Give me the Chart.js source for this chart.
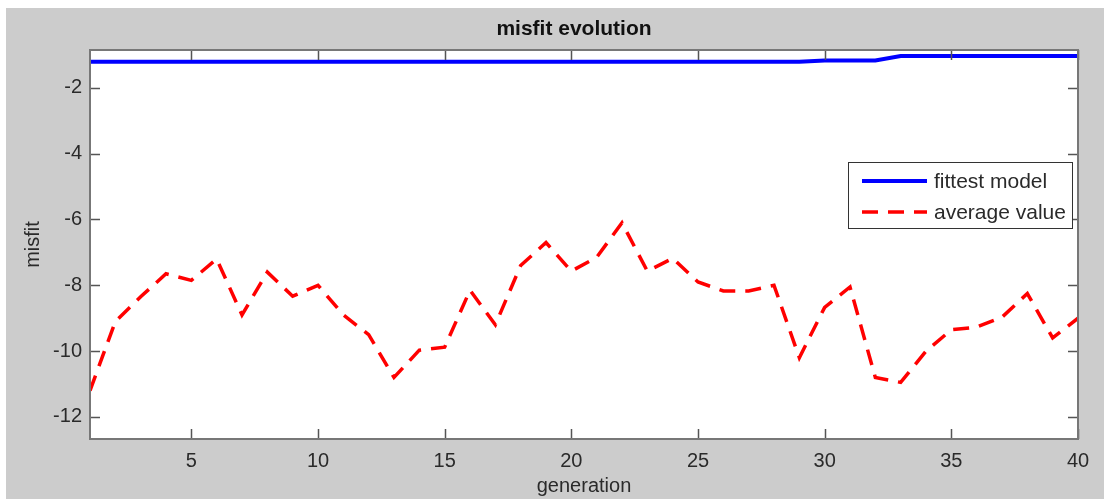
<!DOCTYPE html>
<html>
<head>
<meta charset="utf-8">
<script src="https://cdn.jsdelivr.net/npm/chart.js@4.4.1/dist/chart.umd.min.js"></script>
<style>
  html, body { margin: 0; padding: 0; background: #ffffff; }
  #wrap { width: 1104px; height: 499px; position: relative; }
</style>
</head>
<body>
<div id="wrap"><canvas id="myChart" width="1104" height="499"></canvas></div>
<script>
// generation numbers (x)
var generations = [1, 2, 3, 4, 5, 6, 7, 8, 9, 10,
  11, 12, 13, 14, 15, 16, 17, 18, 19, 20,
  21, 22, 23, 24, 25, 26, 27, 28, 29, 30,
  31, 32, 33, 34, 35, 36, 37, 38, 39, 40];

// misfit of the fittest model
var fittestModel = [-1.21, -1.21, -1.21, -1.21, -1.21, -1.21, -1.21, -1.21, -1.21, -1.21,
  -1.21, -1.21, -1.21, -1.21, -1.21, -1.21, -1.21, -1.21, -1.21, -1.21,
  -1.21, -1.21, -1.21, -1.21, -1.21, -1.21, -1.21, -1.21, -1.21, -1.17,
  -1.17, -1.17, -1.03, -1.03, -1.03, -1.03, -1.03, -1.03, -1.03, -1.03];

// average misfit of the population
var averageValue = [-11.2, -9.1, -8.35, -7.65, -7.85, -7.2, -8.9, -7.6, -8.33, -8.0,
  -8.9, -9.5, -10.8, -9.97, -9.88, -8.15, -9.2, -7.4, -6.7, -7.57,
  -7.15, -6.1, -7.57, -7.18, -7.9, -8.17, -8.17, -8.0, -10.2, -8.67,
  -8.05, -10.8, -10.95, -10.0, -9.35, -9.27, -8.97, -8.25, -9.6, -9.0];

// tick labels
var xTicks = [5, 10, 15, 20, 25, 30, 35, 40];
var yTicks = [-12, -10, -8, -6, -4, -2];

var chartTitle = 'misfit evolution';

var FONT = "'Liberation Sans', Arial, sans-serif";

// pair up x and y
function toPoints(xs, ys) {
  var pts = [];
  for (let i = 0; i < xs.length; i++) pts.push({ x: xs[i], y: ys[i] });
  return pts;
}

// gray figure background + white axes area
var backgroundPlugin = {
  id: 'figureBg',
  beforeDraw: function (chart) {
    var ctx = chart.ctx, a = chart.chartArea;
    ctx.save();
    ctx.fillStyle = '#ffffff';
    ctx.fillRect(0, 0, chart.width, chart.height);
    ctx.fillStyle = '#cccccc';
    ctx.fillRect(6, 8, chart.width - 6, chart.height - 8);
    ctx.fillStyle = '#ffffff';
    ctx.fillRect(a.left, a.top, a.right - a.left, a.bottom - a.top);
    ctx.restore();
  }
};

// title, centred a bit right like the matlab figure
var titlePlugin = {
  id: 'figTitle',
  afterDraw: function (chart) {
    var ctx = chart.ctx, a = chart.chartArea;
    ctx.save();
    ctx.font = 'bold 21px ' + FONT;
    ctx.fillStyle = '#111111';
    ctx.textAlign = 'center';
    ctx.textBaseline = 'middle';
    ctx.fillText(chartTitle, (a.left + a.right) / 2 - 10, 29);
    ctx.restore();
  }
};

// matlab style box with inward ticks on all four sides
var boxPlugin = {
  id: 'axesBox',
  afterDatasetsDraw: function (chart) {
    var ctx = chart.ctx, a = chart.chartArea;
    var xs = chart.scales.x, ys = chart.scales.y;
    var len = 10;
    ctx.save();
    ctx.lineWidth = 1.5;
    ctx.strokeStyle = '#555555';
    ctx.beginPath();
    xTicks.forEach(function (v) {
      var px = Math.round(xs.getPixelForValue(v)) + 0.5;
      ctx.moveTo(px, a.bottom); ctx.lineTo(px, a.bottom - len);
      ctx.moveTo(px, a.top); ctx.lineTo(px, a.top + len);
    });
    yTicks.forEach(function (v) {
      var py = Math.round(ys.getPixelForValue(v)) + 0.5;
      ctx.moveTo(a.left, py); ctx.lineTo(a.left + len, py);
      ctx.moveTo(a.right, py); ctx.lineTo(a.right - len, py);
    });
    ctx.stroke();
    ctx.strokeStyle = '#777777';
    ctx.lineWidth = 2;
    ctx.strokeRect(a.left, a.top, a.right - a.left, a.bottom - a.top);
    ctx.restore();
  }
};

// legend box inside the axes, upper right
var legendPlugin = {
  id: 'insideLegend',
  afterDraw: function (chart) {
    var ctx = chart.ctx, a = chart.chartArea;
    var bx = a.right - 230, by = a.top + 112, bw = 224, bh = 66;
    ctx.save();
    ctx.fillStyle = '#ffffff';
    ctx.fillRect(bx, by, bw, bh);
    ctx.strokeStyle = '#333333';
    ctx.lineWidth = 1;
    ctx.strokeRect(bx + 0.5, by + 0.5, bw, bh);
    ctx.font = '21px ' + FONT;
    ctx.textBaseline = 'middle';
    ctx.fillStyle = '#2a2a2a';
    chart.data.datasets.forEach(function (ds, i) {
      var cy = by + 19 + i * 31;
      ctx.beginPath();
      ctx.strokeStyle = ds.borderColor;
      ctx.lineWidth = ds.borderWidth;
      ctx.setLineDash(ds.borderDash || []);
      ctx.moveTo(bx + 14, cy);
      ctx.lineTo(bx + 79, cy);
      ctx.stroke();
      ctx.setLineDash([]);
      ctx.fillText(ds.label, bx + 86, cy + 1);
    });
    ctx.restore();
  }
};

var myChart = new Chart(document.getElementById('myChart'), {
  type: 'line',
  data: {
    datasets: [
      {
        label: 'fittest model',
        data: toPoints(generations, fittestModel),
        borderColor: '#0000ff',
        borderWidth: 4,
        pointRadius: 0,
        tension: 0,
        fill: false
      },
      {
        label: 'average value',
        data: toPoints(generations, averageValue),
        borderColor: '#ff0000',
        borderWidth: 3.5,
        borderDash: [16, 10],
        pointRadius: 0,
        tension: 0,
        fill: false
      }
    ]
  },
  options: {
    responsive: false,
    animation: false,
    layout: { padding: { left: 0, right: 26, top: 50, bottom: 0 } },
    plugins: {
      legend: { display: false },
      tooltip: { enabled: false },
      title: { display: false }
    },
    scales: {
      x: {
        type: 'linear',
        min: 1,
        max: 40,
        grid: { display: false, drawTicks: false },
        border: { display: false },
        afterBuildTicks: function (s) { s.ticks = xTicks.map(v => ({ value: v })); },
        afterFit: function (s) { s.height = 60; },
        ticks: {
          color: '#2a2a2a',
          padding: 10,
          maxRotation: 0,
          font: { family: FONT, size: 20 }
        },
        title: {
          display: true,
          text: 'generation',
          color: '#2a2a2a',
          font: { family: FONT, size: 20 },
          padding: { top: 0, bottom: 1 }
        }
      },
      y: {
        type: 'linear',
        min: -12.67,
        max: -0.85,
        grid: { display: false, drawTicks: false },
        border: { display: false },
        afterBuildTicks: function (s) { s.ticks = yTicks.map(v => ({ value: v })); },
        afterFit: function (s) { s.width = 90; },
        ticks: {
          color: '#2a2a2a',
          padding: 8,
          font: { family: FONT, size: 20 }
        },
        title: {
          display: true,
          text: 'misfit',
          color: '#2a2a2a',
          font: { family: FONT, size: 20 },
          padding: { top: 21, bottom: 0 }
        }
      }
    }
  },
  plugins: [backgroundPlugin, boxPlugin, legendPlugin, titlePlugin]
});
</script>
</body>
</html>
